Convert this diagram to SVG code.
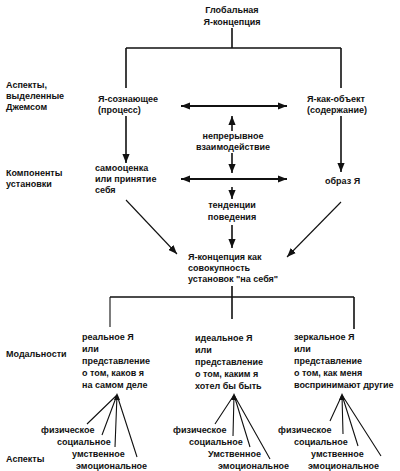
<svg xmlns="http://www.w3.org/2000/svg" width="400" height="471" viewBox="0 0 400 471">
<defs>
<marker id="ah" viewBox="0 0 10 8" refX="10" refY="4" markerWidth="9" markerHeight="7.5" markerUnits="userSpaceOnUse" orient="auto-start-reverse"><path d="M0,0 L10,4 L0,8 z" fill="#111"/></marker>
<path id="tip" d="M0,0 L-3,7 L3,7 z" fill="#111"/>
</defs>
<style>
text{font-family:"Liberation Sans",Arial,sans-serif;font-size:9px;font-weight:bold;fill:#111}
.m{text-anchor:middle}
.ln{stroke:#111;stroke-width:1.6;fill:none}
.th{stroke:#111;stroke-width:2.2;fill:none}
.fn{stroke:#111;stroke-width:1.1;fill:none}
</style>
<rect width="400" height="471" fill="#fff"/>
<g id="connectors">
<path class="ln" d="M232,28 V48 M126,48 H341 M126,48 V88 M341,48 V88"/>
<path class="ln" d="M126,116 V163" marker-end="url(#ah)"/>
<path class="ln" d="M341,116 V172" marker-end="url(#ah)"/>
<path class="th" d="M181,106 H287" marker-start="url(#ah)" marker-end="url(#ah)"/>
<path class="ln" d="M232,131 V116" marker-end="url(#ah)"/>
<path class="ln" d="M232,153 V173" marker-end="url(#ah)"/>
<path class="th" d="M181,179 H287" marker-start="url(#ah)" marker-end="url(#ah)"/>
<path class="ln" d="M232,187 V199" marker-end="url(#ah)"/>
<path class="ln" d="M232,225 V248" marker-end="url(#ah)"/>
<path class="fn" d="M126,200 L177,254" marker-end="url(#ah)"/>
<path class="fn" d="M341,202 L287,257" marker-end="url(#ah)"/>
<path class="ln" d="M232,286 V297 M110,297 H354 M232,297 V319 M354,297 V329"/>
<path class="fn" d="M110,297 V327"/>
<path class="fn" d="M117,395 L87,424 M117,395 L102,435 M117,395 L115,447 M117,395 L137,457"/>
<use href="#tip" x="117" y="393"/>
<path class="fn" d="M234,395 L215,424 M234,395 L233,436 M234,395 L250,447 M234,395 L270,459"/>
<use href="#tip" x="234" y="393"/>
<path class="fn" d="M342,395 L330,421 M342,395 L343,434 M342,395 L358,446 M342,395 L381,456"/>
<use href="#tip" x="342" y="393"/>
</g>
<g id="global"><text class="m" x="232" y="13">Глобальная</text><text class="m" x="232" y="25">Я-концепция</text></g>
<g id="label-aspects-james"><text x="6" y="88">Аспекты,</text><text x="6" y="99">выделенные</text><text x="6" y="110">Джемсом</text></g>
<g id="self-knowing"><text x="98" y="102">Я-сознающее</text><text x="98" y="113">(процесс)</text></g>
<g id="self-object"><text x="307" y="102">Я-как-объект</text><text x="307" y="113">(содержание)</text></g>
<g id="interaction"><text class="m" x="233" y="139">непрерывное</text><text class="m" x="233" y="150">взаимодействие</text></g>
<g id="label-components"><text x="6" y="176">Компоненты</text><text x="6" y="187">установки</text></g>
<g id="self-esteem"><text x="95" y="171">самооценка</text><text x="95" y="182">или принятие</text><text x="95" y="193">себя</text></g>
<g id="self-image"><text x="325" y="184">образ Я</text></g>
<g id="behavior"><text class="m" x="232" y="208">тенденции</text><text class="m" x="232" y="220">поведения</text></g>
<g id="self-concept"><text x="188" y="260">Я-концепция как</text><text x="188" y="271">совокупность</text><text x="188" y="282">установок "на себя"</text></g>
<g id="label-modalities"><text x="6" y="357">Модальности</text></g>
<g id="real-self"><text x="82" y="340">реальное Я</text><text x="82" y="352">или</text><text x="82" y="364">представление</text><text x="82" y="376">о том, каков я</text><text x="82" y="388">на самом деле</text></g>
<g id="ideal-self"><text x="195" y="341">идеальное Я</text><text x="195" y="353">или</text><text x="195" y="365">представление</text><text x="195" y="377">о том, каким я</text><text x="195" y="389">хотел бы быть</text></g>
<g id="mirror-self"><text x="294" y="340">зеркальное Я</text><text x="294" y="352">или</text><text x="294" y="364">представление</text><text x="294" y="376">о том, как меня</text><text x="294" y="388">воспринимают другие</text></g>
<g id="label-aspects"><text x="6" y="462">Аспекты</text></g>
<g id="aspects-real"><text x="41" y="433">физическое</text><text x="57" y="445">социальное</text><text x="72" y="457">умственное</text><text x="76" y="469">эмоциональное</text></g>
<g id="aspects-ideal"><text x="173" y="433">физическое</text><text x="189" y="445">социальное</text><text x="208" y="457">Умственное</text><text x="218" y="469">эмоциональное</text></g>
<g id="aspects-mirror"><text x="278" y="433">физическое</text><text x="294" y="445">социальное</text><text x="311" y="457">умственное</text><text x="308" y="469">эмоциональное</text></g>
</svg>
